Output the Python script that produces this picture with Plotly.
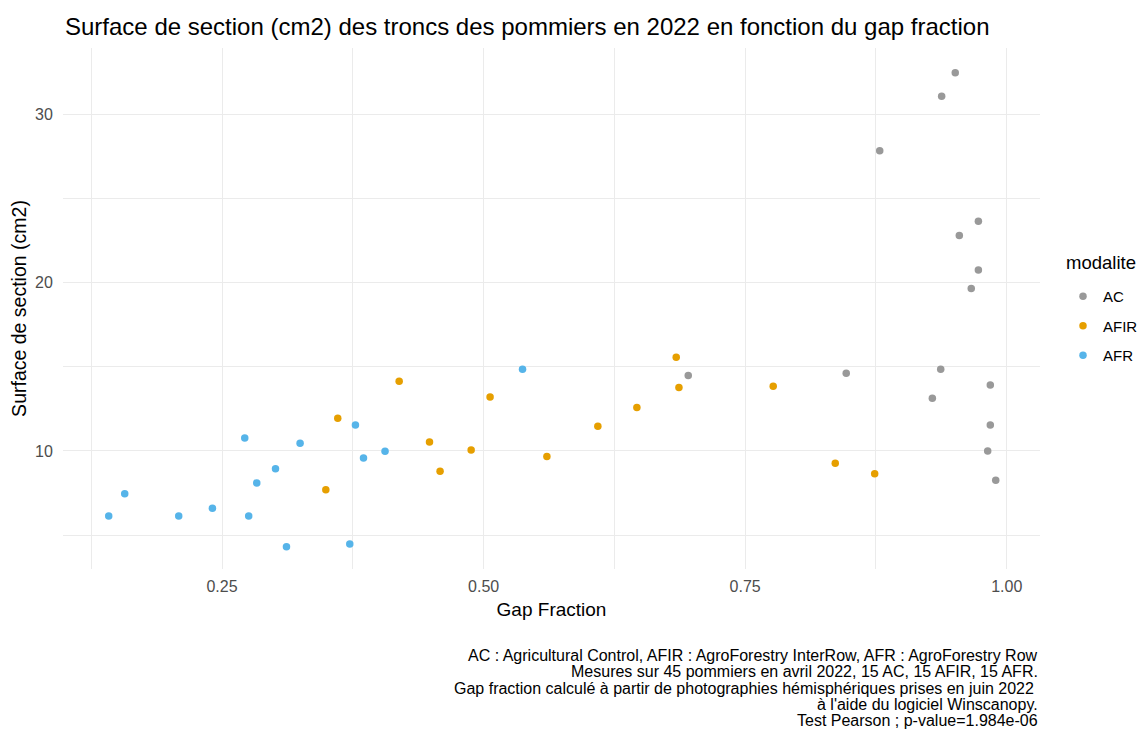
import plotly.graph_objects as go

# ---- data ----
ac_gap = [0.6956, 0.8466, 0.9369, 0.9289, 0.9843, 0.9843, 0.9818, 0.9895,
          0.9508, 0.9378, 0.8786, 0.9729, 0.9547, 0.9729, 0.9661]
ac_surf = [14.49, 14.63, 14.86, 13.14, 13.93, 11.55, 10.00, 8.26,
           32.50, 31.10, 27.86, 23.67, 22.82, 20.77, 19.67]

afir_gap = [0.3606, 0.3492, 0.4193, 0.4483, 0.4584, 0.4881, 0.5062, 0.5605,
            0.6092, 0.6465, 0.6841, 0.6867, 0.7768, 0.8361, 0.8738]
afir_surf = [11.95, 7.70, 14.15, 10.54, 8.79, 10.06, 13.21, 9.67,
             11.47, 12.58, 15.58, 13.77, 13.85, 9.27, 8.65]

afr_gap = [0.1417, 0.1570, 0.2086, 0.2408, 0.2717, 0.2755, 0.2832, 0.3011,
           0.3116, 0.3246, 0.3721, 0.3775, 0.3852, 0.4058, 0.5372]
afr_surf = [6.13, 7.46, 6.13, 6.59, 10.77, 6.13, 8.10, 8.95,
            4.31, 10.46, 4.46, 11.55, 9.58, 9.98, 14.86]

groups = ["AC", "AFIR", "AFR"]
colors = {"AC": "#999999", "AFIR": "#E69F00", "AFR": "#56B4E9"}
series = {"AC": (ac_gap, ac_surf), "AFIR": (afir_gap, afir_surf), "AFR": (afr_gap, afr_surf)}

x_ticks = [0.25, 0.50, 0.75, 1.00]
x_ticklabels = ["0.25", "0.50", "0.75", "1.00"]
x_minor = [0.125, 0.375, 0.625, 0.875]
y_ticks = [10, 20, 30]
y_minor = [5, 15, 25]

title = "Surface de section (cm2) des troncs des pommiers en 2022 en fonction du gap fraction"
legend_title = "modalite"
caption_lines = [
    "AC : Agricultural Control, AFIR : AgroForestry InterRow, AFR : AgroForestry Row",
    "Mesures sur 45 pommiers en avril 2022, 15 AC, 15 AFIR, 15 AFR.",
    "Gap fraction calculé à partir de photographies hémisphériques prises en juin 2022 ",
    "à l'aide du logiciel Winscanopy.",
    "Test Pearson ; p-value=1.984e-06",
]

FONT = "Liberation Sans, Arial, sans-serif"
OFF = 8  # page body margin
W, H = 1147 - OFF, 729 - OFF
ML, MR, MT, MB = 55, 107, 40, 160
PW, PH = W - ML - MR, H - MT - MB


def px_to_paper_y(page_y):
    return 1 - ((page_y - OFF) - MT) / PH


def px_to_paper_x(page_x):
    return ((page_x - OFF) - ML) / PW


fig = go.Figure()
for g in groups:
    xs, ys = series[g]
    fig.add_trace(go.Scatter(
        x=xs, y=ys, mode="markers", name=g, legendgroup=g,
        marker=dict(color=colors[g], size=7.5, line=dict(width=0)),
    ))

grid = "#EBEBEB"
fig.update_xaxes(
    range=[0.098, 1.0318], tickvals=x_ticks, ticktext=x_ticklabels,
    showgrid=True, gridcolor=grid, gridwidth=1, zeroline=False, showline=False,
    ticks="outside", ticklen=3, tickcolor="rgba(0,0,0,0)",
    tickfont=dict(family=FONT, size=16, color="#4D4D4D"),
    minor=dict(tickvals=x_minor, showgrid=True, gridcolor=grid, gridwidth=1),
    title=dict(text="Gap Fraction", font=dict(family=FONT, size=19, color="black"), standoff=8),
)
fig.update_yaxes(
    range=[2.98, 33.97], tickvals=y_ticks,
    showgrid=True, gridcolor=grid, gridwidth=1, zeroline=False, showline=False,
    ticks="outside", ticklen=6, tickcolor="rgba(0,0,0,0)",
    tickfont=dict(family=FONT, size=16, color="#4D4D4D"),
    minor=dict(tickvals=y_minor, showgrid=True, gridcolor=grid, gridwidth=1),
    title=dict(text="Surface de section (cm2)", font=dict(family=FONT, size=19.5, color="black"), standoff=5),
)

annotations = []
line_y = [655, 671, 688, 704, 720]
for txt, yy in zip(caption_lines, line_y):
    annotations.append(dict(
        text=txt, xref="paper", yref="paper", x=1.0, xanchor="right",
        y=px_to_paper_y(yy), yanchor="middle", showarrow=False,
        font=dict(family=FONT, size=16, color="black"), align="right",
    ))
annotations.append(dict(
    text=legend_title, xref="paper", yref="paper", x=px_to_paper_x(1064), xanchor="left",
    y=px_to_paper_y(262), yanchor="middle", showarrow=False,
    font=dict(family=FONT, size=18.5, color="black"),
))

fig.update_layout(
    width=W, height=H,
    margin=dict(l=ML, r=MR, t=MT, b=MB, autoexpand=False),
    paper_bgcolor="white", plot_bgcolor="white",
    title=dict(text=title, x=(65 - OFF) / W, xanchor="left", xref="container",
               y=1 - (27 - OFF) / H, yanchor="middle", yref="container",
               font=dict(family=FONT, size=24, color="black")),
    legend=dict(
        font=dict(family=FONT, size=15, color="black"),
        x=px_to_paper_x(1063), xanchor="left", y=px_to_paper_y(280), yanchor="top",
        tracegroupgap=7, bgcolor="rgba(0,0,0,0)",
    ),
    annotations=annotations,
    showlegend=True,
)

fig.write_html("out.html")
